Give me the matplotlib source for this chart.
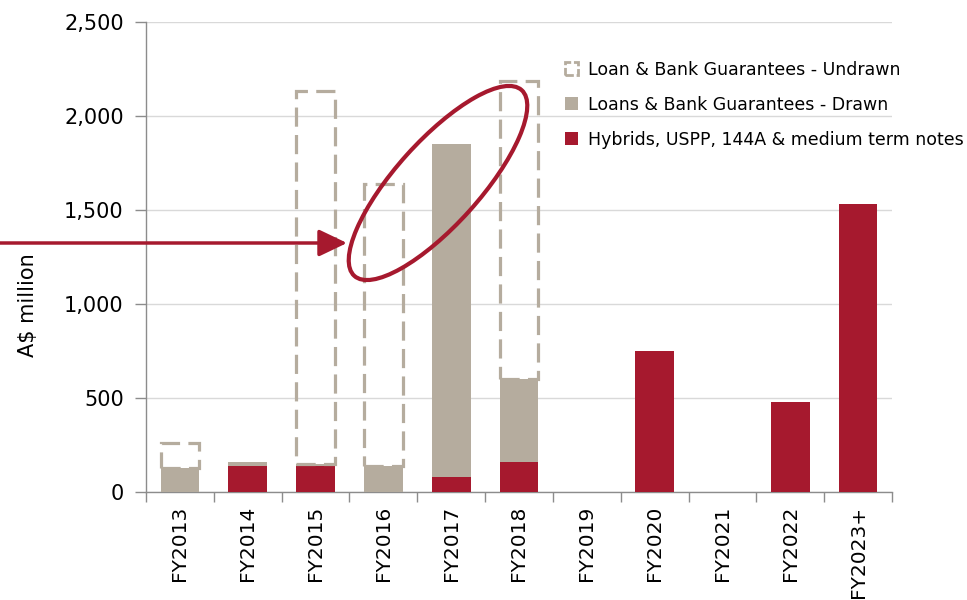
import numpy as np
import matplotlib
matplotlib.use("Agg")
import matplotlib.pyplot as plt
from matplotlib.patches import Ellipse, Patch
from matplotlib.ticker import FuncFormatter

# values (A$ million)
years = ["FY2013", "FY2014", "FY2015", "FY2016", "FY2017", "FY2018",
         "FY2019", "FY2020", "FY2021", "FY2022", "FY2023+"]
hybrids = [0, 139, 137, 0, 78, 160, 0, 751, 0, 480, 1533]
drawn = [128, 21, 12, 137, 1772, 441, 0, 0, 0, 0, 0]
undrawn = [130, 0, 1985, 1500, 0, 1587, 0, 0, 0, 0, 0]

red = "#A6192E"
grey = "#B5AC9E"
axcol = "#8C8C8C"

plt.rcParams["font.family"] = ["DejaVu Sans"]

fig = plt.figure(figsize=(9.67, 6), dpi=100)
ax = fig.add_axes([0.151, 0.1805, 0.7714, 0.7828])

x = np.arange(len(years))
hybrids = np.array(hybrids)
drawn = np.array(drawn)
undrawn = np.array(undrawn)
w = 0.57

ax.bar(x, hybrids, w, color=red, linewidth=0, zorder=3)
ax.bar(x, drawn, w, bottom=hybrids, color=grey, linewidth=0, zorder=3)
has_box = undrawn > 0
ax.bar(x[has_box], undrawn[has_box], w, bottom=(hybrids + drawn)[has_box],
       fill=False, edgecolor=grey, linewidth=2.3, linestyle=(0, (6, 2.6)), zorder=4)

ax.set_xlim(-0.5, len(years) - 0.5)
ax.set_ylim(0, 2500)
ax.set_yticks(np.arange(0, 2501, 500))
ax.yaxis.set_major_formatter(FuncFormatter(lambda v, p: f"{int(v):,}"))
ax.set_xticks(x)
ax.set_xticklabels(years, rotation=90)
ax.set_xticks(np.arange(-0.5, len(years)), minor=True)
ax.tick_params(axis="x", which="major", length=0, pad=10, labelsize=14.5)
ax.tick_params(axis="x", which="minor", length=7, color=axcol, width=1)
ax.tick_params(axis="y", length=8, color=axcol, width=1, pad=8, labelsize=15)
ax.grid(axis="y", color="#D9D9D9", linewidth=1, zorder=0)
ax.set_axisbelow(True)
for s in ["top", "right"]:
    ax.spines[s].set_visible(False)
for s in ["left", "bottom"]:
    ax.spines[s].set_color(axcol)
    ax.spines[s].set_linewidth(1)
ax.set_ylabel("A$ million", fontsize=15)
ax.yaxis.set_label_coords(-0.145, 0.397)

handles = [
    Patch(facecolor="none", edgecolor=grey, linewidth=2, linestyle=(0, (3, 1))),
    Patch(facecolor=grey, edgecolor="none"),
    Patch(facecolor=red, edgecolor="none"),
]
labels = ["Loan & Bank Guarantees - Undrawn",
          "Loans & Bank Guarantees - Drawn",
          "Hybrids, USPP, 144A & medium term notes"]
ax.legend(handles, labels, loc="upper left", bbox_to_anchor=(0.562, 0.918),
          frameon=False, fontsize=12.5, handlelength=0.75, handleheight=0.75,
          handletextpad=0.55, labelspacing=0.98, borderpad=0, borderaxespad=0)

# highlight ellipse and arrow (figure inches)
ell = Ellipse((4.38, 4.17), 2.5, 0.84, angle=48, fill=False, edgecolor=red,
              linewidth=3, transform=fig.dpi_scale_trans, zorder=6)
fig.patches.append(ell)
ax.annotate("", xy=(3.47, 3.57), xycoords=fig.dpi_scale_trans,
            xytext=(0.0, 3.57), textcoords=fig.dpi_scale_trans,
            arrowprops=dict(arrowstyle="-|>,head_length=1.15,head_width=0.55",
                            mutation_scale=15, color=red, linewidth=2.5,
                            shrinkA=0, shrinkB=0),
            annotation_clip=False, zorder=6)

fig.savefig("out.png", dpi=100)
